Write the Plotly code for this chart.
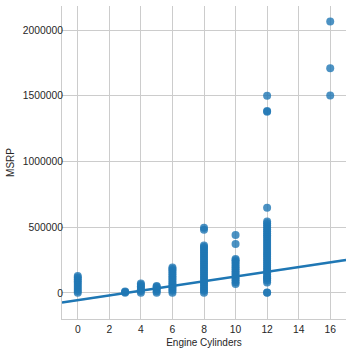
import plotly.graph_objects as go

# Engine cylinder groups and the MSRP values
msrp_cyl0 = [2000, 15000, 30000, 45000, 60000, 75000, 90000, 105000, 118000, 130000]
msrp_cyl3 = [2000, 7000, 12000]
msrp_cyl4 = [2000, 15000, 28000, 40000, 52000, 62000, 72000]
msrp_cyl5 = [2000, 14000, 26000, 38000, 47000, 53000]
msrp_cyl6 = [2000, 16000, 30000, 44000, 58000, 72000, 86000, 100000, 114000,
             128000, 142000, 156000, 170000, 183000, 194000]
msrp_cyl8 = [2000, 16000, 30000, 44000, 58000, 72000, 86000, 100000, 114000,
             128000, 142000, 156000, 170000, 184000, 198000, 212000, 226000,
             240000, 254000, 268000, 282000, 296000, 310000, 324000, 338000,
             350000, 361000, 480000, 497000]
msrp_cyl10 = [68000, 82000, 96000, 110000, 124000, 138000, 152000, 166000,
              180000, 194000, 208000, 222000, 236000, 248000, 259000,
              373000, 441000]
msrp_cyl12 = [2000, 4000, 80000, 95000, 110000, 114000, 126000, 140000, 155000,
              170000, 185000, 200000, 215000, 230000, 245000, 260000, 275000,
              290000, 305000, 320000, 335000, 350000, 365000, 380000, 395000,
              410000, 425000, 440000, 455000, 470000, 485000, 500000, 515000,
              530000, 544000, 649000, 1379000, 1384000, 1500000]
msrp_cyl16 = [1503000, 1709000, 2066000]

groups = [(0, msrp_cyl0), (3, msrp_cyl3), (4, msrp_cyl4), (5, msrp_cyl5),
          (6, msrp_cyl6), (8, msrp_cyl8), (10, msrp_cyl10), (12, msrp_cyl12),
          (16, msrp_cyl16)]

# Regression line and confidence band
reg_x = [-1, 17]
reg_y = [-72000, 250000]
ci_x = [-1, 4, 8, 12, 17]
ci_lo = [-80000, 10000, 83000, 154000, 240000]
ci_hi = [-64000, 18000, 89000, 162000, 260000]

x_ticks = [0, 2, 4, 6, 8, 10, 12, 14, 16]
y_ticks = [0, 500000, 1000000, 1500000, 2000000]

xs, ys = [], []
for c, vals in groups:
    xs += [c] * len(vals)
    ys += vals

blue = "#1f77b4"
fig = go.Figure()
fig.add_trace(go.Scatter(x=xs, y=ys, mode="markers",
                         marker=dict(color=blue, size=8, opacity=0.8, line=dict(width=0)),
                         showlegend=False, hoverinfo="skip"))
fig.add_trace(go.Scatter(x=ci_x + ci_x[::-1], y=ci_hi + ci_lo[::-1], fill="toself",
                         fillcolor="rgba(31,119,180,0.15)", line=dict(width=0),
                         mode="lines", showlegend=False, hoverinfo="skip"))
fig.add_trace(go.Scatter(x=reg_x, y=reg_y, mode="lines",
                         line=dict(color=blue, width=2.5), showlegend=False))

axis_common = dict(showgrid=True, gridcolor="#cccccc", gridwidth=1, zeroline=False,
                   showline=True, linecolor="#cccccc", linewidth=1, mirror=False,
                   ticks="", tickfont=dict(family="Liberation Sans, Arial", size=10.3, color="#262626"),
                   title_font=dict(family="Liberation Sans, Arial", size=10, color="#262626"))

fig.update_xaxes(range=[-1, 17], tickvals=x_ticks, title_text="Engine Cylinders",
                 title_standoff=4, ticklabelstandoff=1, **axis_common)
fig.update_yaxes(range=[-198000, 2183000], tickvals=y_ticks, tickformat="d",
                 title_text="MSRP", title_standoff=6, ticklabelstandoff=-4, **axis_common)

fig.update_layout(width=352, height=352, margin=dict(l=62, r=6, t=6, b=33),
                  plot_bgcolor="white", paper_bgcolor="white")

fig.write_html("out.html")
